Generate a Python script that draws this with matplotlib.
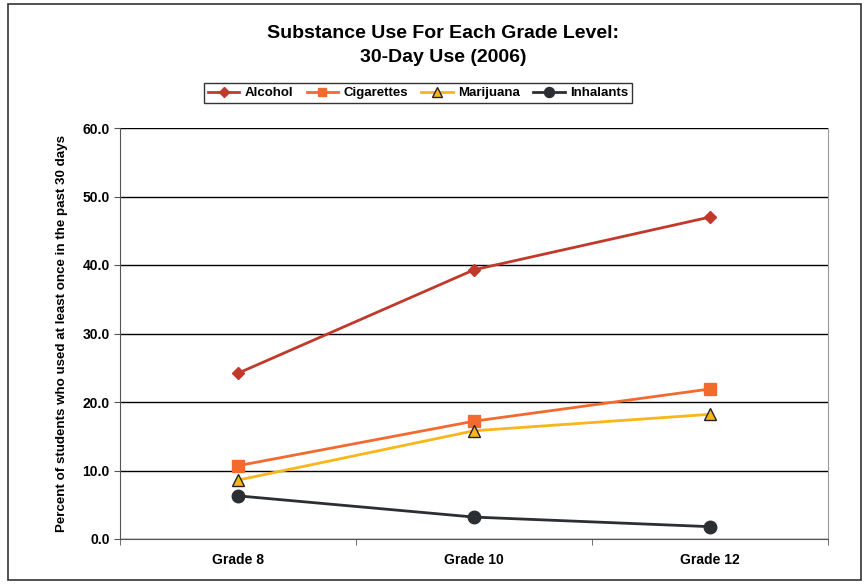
import matplotlib.pyplot as plt
from matplotlib.patches import Rectangle

grades = ['Grade 8', 'Grade 10', 'Grade 12']
alcohol = [24.2, 39.3, 47.0]
cigarettes = [10.7, 17.2, 21.9]
marijuana = [8.6, 15.8, 18.2]
inhalants = [6.3, 3.2, 1.8]
yticks = [0, 10, 20, 30, 40, 50, 60]

plt.rcParams['font.family'] = ['Liberation Sans', 'DejaVu Sans']

fig = plt.figure(figsize=(8.65, 5.84), dpi=100)
fig.patches.append(Rectangle((8/865, 4/584), 853/865, 576/584, transform=fig.transFigure,
                             fill=False, edgecolor='#333333', linewidth=1.2))
ax = fig.add_axes([120/865, 45/584, 708/865, 411/584])

x = range(len(grades))
ax.plot(x, alcohol, color='#C0392B', marker='D', markersize=6, linewidth=2, label='Alcohol')
ax.plot(x, cigarettes, color='#F26A2E', marker='s', markersize=8, linewidth=2, label='Cigarettes')
ax.plot(x, marijuana, color='#F9B51A', marker='^', markersize=9, markerfacecolor='#F9B51A',
        markeredgecolor='#222222', markeredgewidth=1, linewidth=2, label='Marijuana')
ax.plot(x, inhalants, color='#2B2F33', marker='o', markersize=9, linewidth=2, label='Inhalants')

ax.set_xlim(-0.5, 2.5)
ax.set_ylim(0, 60)
ax.set_yticks(yticks)
ax.set_yticklabels(['%.1f' % v for v in yticks], fontsize=10, fontweight='bold')
ax.set_xticks(list(x))
ax.set_xticklabels(grades, fontsize=10, fontweight='bold')
ax.set_xticks([-0.5, 0.5, 1.5, 2.5], minor=True)
ax.tick_params(axis='x', which='major', length=0, pad=10)
ax.tick_params(axis='x', which='minor', length=4, direction='out', color='#555555')
ax.tick_params(axis='y', length=4, direction='out', color='#555555')
ax.yaxis.grid(True, color='black', linewidth=1)
ax.set_axisbelow(True)
ax.spines['top'].set_visible(False)
ax.spines['right'].set_color('#999999')
ax.spines['left'].set_color('#555555')
ax.spines['bottom'].set_color('#555555')
ax.set_ylabel('Percent of students who used at least once in the past 30 days',
              fontsize=9.6, fontweight='bold', labelpad=10)

fig.text(443/865, 1 - 33/584, 'Substance Use For Each Grade Level:', ha='center', va='center',
         fontsize=14, fontweight='bold')
fig.text(443/865, 1 - 57/584, '30-Day Use (2006)', ha='center', va='center',
         fontsize=14, fontweight='bold')

leg = fig.legend(loc='center', bbox_to_anchor=(418/865, 1 - 93/584), ncol=4,
                 prop={'size': 9.5, 'weight': 'bold'}, frameon=True, fancybox=False,
                 edgecolor='black', handlelength=2.4, columnspacing=1.0,
                 handletextpad=0.4, borderpad=0.3, markerscale=0.8)
leg.get_frame().set_linewidth(1)

fig.savefig('out.png', dpi=100)
